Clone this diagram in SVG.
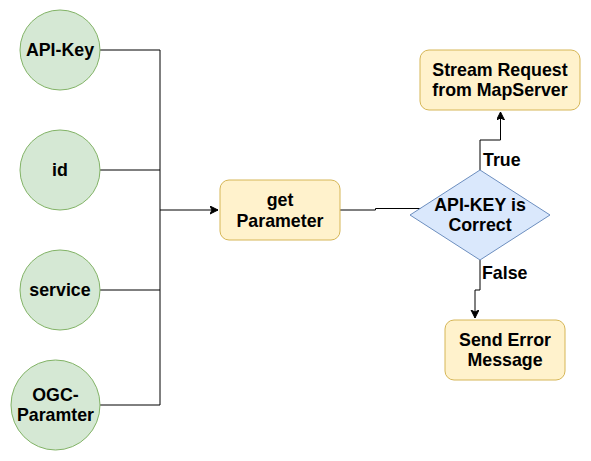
<svg xmlns="http://www.w3.org/2000/svg" width="591" height="461" viewBox="0 0 591 461">
<defs>
<style>
.c{fill:#d5e8d4;stroke:#82b366;stroke-width:1}
.b{fill:#fff2cc;stroke:#d6b656;stroke-width:1}
.d{fill:#dae8fc;stroke:#6c8ebf;stroke-width:1}
.e{fill:none;stroke:#000;stroke-width:1}
text{font-family:"Liberation Sans",Arial,sans-serif;font-weight:bold;font-size:17.8px;fill:#000;text-anchor:middle}
.l{text-anchor:start}
</style>
<marker id="a" markerWidth="10" markerHeight="10" refX="8" refY="4" orient="auto" markerUnits="userSpaceOnUse">
<path d="M0,0 L8,4 L0,8 L2,4 Z" fill="#000" stroke="#000" stroke-width="1"/>
</marker>
</defs>
<rect width="591" height="461" fill="#fff"/>
<g id="connectors">
<path class="e" d="M100,50 H160 V405 H100"/>
<path class="e" d="M100,170 H160"/>
<path class="e" d="M100,290 H160"/>
<path class="e" d="M160,210 H218" marker-end="url(#a)"/>
<path class="e" d="M340,210 H375.5 V208.5 H421"/>
<path class="e" d="M480,170 V140 H500.5 V112" marker-end="url(#a)"/>
<path class="e" d="M480,260 V290 H475 V318" marker-end="url(#a)"/>
<text class="l" x="483" y="166">True</text>
<text class="l" x="482" y="279">False</text>
</g>
<g id="api-key"><circle class="c" cx="60" cy="50" r="40"/><text x="60" y="56">API-Key</text></g>
<g id="id"><circle class="c" cx="60" cy="170" r="40"/><text x="60" y="176">id</text></g>
<g id="service"><circle class="c" cx="60" cy="290" r="40"/><text x="60" y="296">service</text></g>
<g id="ogc"><ellipse class="c" cx="55.5" cy="405" rx="44.5" ry="45"/><text x="55.5" y="401">OGC-</text><text x="55.5" y="421">Paramter</text></g>
<g id="get-parameter"><rect class="b" x="220" y="180" width="120" height="60" rx="9"/><text x="280" y="206">get</text><text x="280" y="227">Parameter</text></g>
<g id="check"><path class="d" d="M410,215 L480,170 L550,215 L480,260 Z"/><text x="480" y="211">API-KEY is</text><text x="480" y="231">Correct</text></g>
<g id="stream"><rect class="b" x="420" y="50" width="160" height="60" rx="9"/><text x="500" y="76">Stream Request</text><text x="500" y="96">from MapServer</text></g>
<g id="error"><rect class="b" x="445" y="320" width="120" height="60" rx="9"/><text x="505" y="346">Send Error</text><text x="505" y="366">Message</text></g>
</svg>
